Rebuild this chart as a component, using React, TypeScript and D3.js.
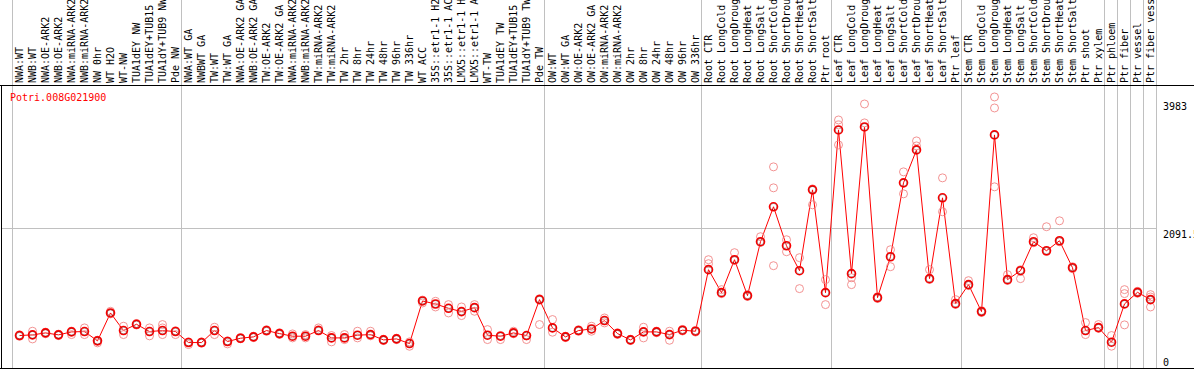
import React from "react";
import * as d3 from "d3";

const W = 1194;
const H = 370;
const title = "Potri.008G021900";

const labels: string[] = [
  "NWA:WT", "NWB:WT", "NWA:OE-ARK2", "NWB:OE-ARK2", "NWA:miRNA-ARK2", "NWB:miRNA-ARK2", "NW 0hr", "WT H2O", "WT-NW", "TUA1dEY NW", "TUA1dEY+TUB15", "TUA1dY+TUB9 NW", "Pde NW",
  "NWA:WT GA", "NWBWT GA", "TW:WT", "TW:WT GA", "NWA:OE-ARK2 GA", "NWB:OE-ARK2 GA", "TW:OE-ARK2", "TW:OE-ARK2 GA", "NWA:miRNA-ARK2", "NWB:miRNA-ARK2", "TW:miRNA-ARK2", "TW:miRNA-ARK2", "TW 2hr", "TW 8hr", "TW 24hr", "TW 48hr", "TW 96hr", "TW 336hr", "WT ACC", "35S::etr1-1 H2O", "35S::etr1-1 ACC", "LMX5::etr1-1 H2O", "LMX5::etr1-1 ACC", "WT-TW", "TUA1dEY TW", "TUA1dEY+TUB15", "TUA1dY+TUB9 TW", "Pde TW",
  "OW:WT", "OW:WT GA", "OW:OE-ARK2", "OW:OE-ARK2 GA", "OW:miRNA-ARK2", "OW:miRNA-ARK2", "OW 2hr", "OW 8hr", "OW 24hr", "OW 48hr", "OW 96hr", "OW 336hr",
  "Root CTR", "Root LongCold", "Root LongDrought", "Root LongHeat", "Root LongSalt", "Root ShortCold", "Root ShortDrought", "Root ShortHeat", "Root ShortSalt", "Ptr root",
  "Leaf CTR", "Leaf LongCold", "Leaf LongDrought", "Leaf LongHeat", "Leaf LongSalt", "Leaf ShortCold", "Leaf ShortDrought", "Leaf ShortHeat", "Leaf ShortSalt", "Ptr leaf",
  "Stem CTR", "Stem LongCold", "Stem LongDrought", "Stem LongHeat", "Stem LongSalt", "Stem ShortCold", "Stem ShortDrought", "Stem ShortHeat", "Stem ShortSalt",
  "Ptr shoot", "Ptr xylem", "Ptr phloem", "Ptr fiber", "Ptr vessel", "Ptr fiber vessel",
];

const means: number[] = [
  489, 499, 528, 499, 543, 548, 410, 824, 563, 656, 548, 563, 548,
  385, 385, 563, 400, 449, 469, 563, 518, 479, 479, 563, 454, 454, 494, 503, 424, 439, 370, 1002, 957, 893, 844, 903, 494, 479, 528, 489, 1022,
  602, 469, 563, 587, 711, 518, 424, 543, 543, 503, 568, 553,
  1466, 1125, 1614, 1081, 1881, 2399, 1821, 1451, 2650, 1125,
  3539, 1407, 3583, 1051, 1658, 2754, 3243, 1333, 2532, 962,
  1244, 844, 3465, 1318, 1451, 1880, 1747, 1895, 1495,
  563, 607, 390, 958, 1130, 1022,
];

const replicates: number[][] = [
  [500, 478], [553, 439], [540, 515], [510, 488], [503, 555], [602, 503], [380, 420], [849, 810], [627, 503], [668, 645], [602, 484], [652, 602, 503], [503, 560],
  [355, 395], [395, 375], [612, 503], [365, 410], [460, 440], [480, 458], [575, 552], [530, 505], [513, 454], [503, 454], [602, 575], [489, 395], [503, 429], [553, 454], [553, 484], [435, 414], [450, 428], [395, 330],
  [972, 1015], [997, 913], [948, 824], [913, 785], [948, 849], [577, 429], [429, 490], [553, 515], [484, 429], [652, 1035],
  [726, 538], [480, 458], [575, 552], [627, 553], [750, 676], [530, 505], [435, 414], [612, 454], [555, 530], [553, 419], [580, 556], [565, 540],
  [1614, 1555], [1170, 1110], [1718, 1600], [1095, 1068], [1955, 1870], [2991, 2680, 1525], [1910, 1732], [1644, 1185], [2428, 2665], [1318, 948],
  [3687, 3613, 3317], [1347, 1244], [3924, 3643], [1065, 1038], [1762, 1510], [2917, 2591], [3376, 3302], [1466, 1320], [2828, 2325], [1022, 950],
  [1303, 1230], [858, 830], [4028, 3865, 2695], [1392, 1305], [1333, 1465], [1940, 1865], [2103, 1735], [2191, 1880], [1510, 1480],
  [681, 503], [652, 595], [489, 331], [1170, 1111, 647], [1145, 1115], [1096, 1061, 913],
];

const groupStarts: number[] = [0, 13, 41, 53, 63, 73, 84, 85, 86, 87, 88];
const yTicks: number[] = [0, 2091.5, 3983];
const yTickLabels: string[] = ["0", "2091.5", "3983"];

const FONT = "'DejaVu Sans Mono', 'Liberation Mono', monospace";

export default function App() {
  const n = labels.length;
  const x = d3.scaleLinear().domain([0, n - 1]).range([19.5, 19.5 + 13 * (n - 1)]);
  const y = d3.scaleLinear().domain([0, 3983]).range([368.5, 100]);
  const lineGen = d3
    .line<number>()
    .x((_, i) => x(i))
    .y((d) => y(d));
  const sepX = (k: number) => Math.round(x(k) - 8) + 0.5;
  const plotRight = sepX(n);

  return (
    <div style={{ position: "fixed", left: 0, top: 0, background: "#fff" }}>
      <svg width={W} height={H} style={{ display: "block" }}>
        <rect x={0} y={0} width={W} height={H} fill="#fff" />
        {/* vertical separators */}
        {groupStarts.map((k, i) => (
          <line key={"s" + i} x1={sepX(k)} x2={sepX(k)} y1={0} y2={369} stroke="#c0c0c0" strokeWidth={1} shapeRendering="crispEdges" />
        ))}
        {/* horizontal grid at middle tick */}
        <line x1={1} x2={plotRight} y1={Math.round(y(yTicks[1])) + 0.5} y2={Math.round(y(yTicks[1])) + 0.5} stroke="#c0c0c0" strokeWidth={1} shapeRendering="crispEdges" />
        {/* frame */}
        <line x1={0} x2={W} y1={85.5} y2={85.5} stroke="#000" strokeWidth={1} shapeRendering="crispEdges" />
        <line x1={0} x2={W} y1={368.5} y2={368.5} stroke="#000" strokeWidth={1} shapeRendering="crispEdges" />
        <line x1={1.5} x2={1.5} y1={85} y2={369} stroke="#000" strokeWidth={1} shapeRendering="crispEdges" />
        {/* category labels */}
        {labels.map((l, i) => (
          <text key={"l" + i} transform={`translate(${x(i) + 3},83) rotate(-90)`} fontFamily={FONT} fontSize={10} fill="#000">
            {l}
          </text>
        ))}
        {/* title */}
        <text x={10} y={101} fontFamily={FONT} fontSize={10} fill="#ff0000">
          {title}
        </text>
        {/* y tick labels */}
        {yTicks.map((t, i) => (
          <text key={"t" + i} x={1163} y={i === 0 ? 366 : y(t) + 10} fontFamily={FONT} fontSize={10} fill="#000">
            {yTickLabels[i]}
          </text>
        ))}
        {/* line */}
        <path d={lineGen(means) || ""} fill="none" stroke="#ff0000" strokeWidth={1} />
        {/* replicates */}
        {replicates.map((reps, i) =>
          reps.map((v, j) => (
            <circle key={`r${i}-${j}`} cx={x(i)} cy={y(v)} r={4} fill="none" stroke="#f08080" strokeOpacity={0.85} strokeWidth={1} />
          ))
        )}
        {/* means */}
        {means.map((v, i) => (
          <g key={"m" + i}>
            <circle cx={x(i)} cy={y(v)} r={4} fill="none" stroke="#ff0000" strokeWidth={1.6} />
            <circle cx={x(i)} cy={y(v)} r={3.3} fill="none" stroke="#000" strokeOpacity={0.45} strokeWidth={0.6} />
          </g>
        ))}
      </svg>
    </div>
  );
}
